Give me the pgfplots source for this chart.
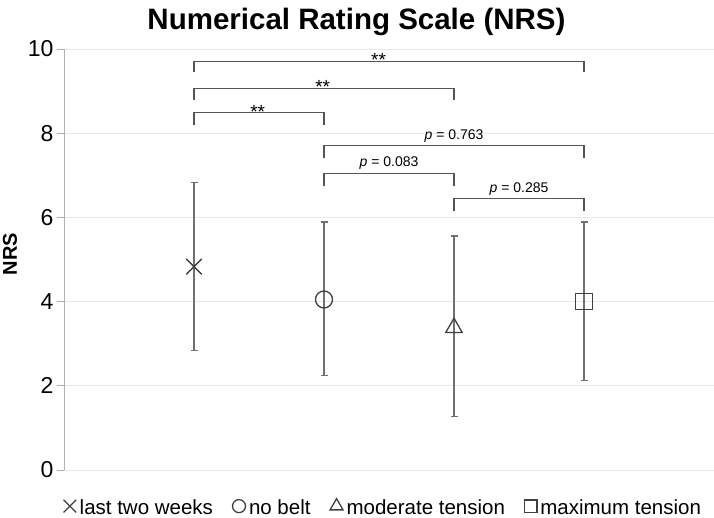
\documentclass[border=0pt]{standalone}
\usepackage{fontspec}
\setmainfont{Liberation Sans}
\usepackage{pgfplots}
\pgfplotsset{compat=1.18}
\definecolor{gridc}{HTML}{E8E8E8}
\definecolor{axc}{HTML}{B0B0B0}
\definecolor{markc}{HTML}{404040}
\definecolor{errc}{HTML}{707070}
\definecolor{brc}{HTML}{555555}
\begin{document}
\begin{tikzpicture}
\begin{axis}[
  at={(0,0)}, anchor=south west,
  scale only axis, width=650bp, height=421bp,
  xmin=0, xmax=5, ymin=0, ymax=10,
  axis x line=bottom, axis y line=left, axis line style={-},
  x axis line style={draw=gridc, line width=0.8bp},
  y axis line style={draw=axc, line width=0.8bp},
  xtick=\empty,
  ytick={0,2,4,6,8,10},
  ymajorgrids, grid style={draw=gridc, line width=0.8bp},
  tick align=outside, major tick length=7bp,
  ytick style={draw=axc, line width=0.8bp},
  /pgf/number format/assume math mode=true,
  yticklabel style={font=\fontsize{23bp}{23bp}\selectfont},
  ylabel={NRS},
  ylabel style={font=\bfseries\fontsize{20bp}{20bp}\selectfont, at={(axis description cs:-0.083,0.513)}, anchor=center},
  title={Numerical Rating Scale (NRS)},
  title style={font=\bfseries\fontsize{29.5bp}{29.5bp}\selectfont, at={(axis description cs:0.45,1.033)}, anchor=base},
  clip=false,
  legend columns=4,
  legend style={at={(axis description cs:0.49,0)}, anchor=south, yshift=-47bp, draw=none, fill=none,
    font=\fontsize{20.5bp}{20.5bp}\selectfont, inner sep=0pt,
    nodes={inner sep=0.5bp},
    /tikz/every odd column/.style={column sep=3bp},
    /tikz/every even column/.style={column sep=19bp}},
  legend image code/.code={\draw[#1, line width=1bp] plot coordinates {(0bp,2bp)};},
  error bars/y dir=both, error bars/y explicit,
  error bars/error bar style={errc, line width=1.2bp},
  error bars/error mark options={rotate=90, mark size=3.5bp, errc, line width=1.2bp},
]
\addplot[only marks, mark=x, mark size=11bp, mark options={draw=markc, line width=1.3bp},
  legend image post style={mark size=9bp}]
  coordinates {(1,4.83) += (0,1.99) -= (0,1.99)};
\addlegendentry{last two weeks}
\addplot[only marks, mark=o, mark size=8.5bp, mark options={draw=markc, fill=white, line width=1.3bp},
  legend image post style={mark size=6.5bp}]
  coordinates {(2,4.05) += (0,1.84) -= (0,1.81)};
\addlegendentry{no belt}
\addplot[only marks, mark=triangle, mark size=9.5bp, mark options={draw=markc, fill=white, line width=1.3bp},
  legend image post style={mark size=7.5bp}]
  coordinates {(3,3.38) += (0,2.18) -= (0,2.10)};
\addlegendentry{moderate tension}
\addplot[only marks, mark=square, mark size=8.2bp, mark options={draw=markc, fill=white, line width=1.3bp},
  legend image post style={mark size=6.2bp}]
  coordinates {(4,4.00) += (0,1.89) -= (0,1.87)};
\addlegendentry{maximum tension}
% significance brackets
\addplot[brc, line width=1.1bp, forget plot] coordinates {(1,9.45)(1,9.71)(4,9.71)(4,9.45)};
\addplot[brc, line width=1.1bp, forget plot] coordinates {(1,8.79)(1,9.07)(3,9.07)(3,8.79)};
\addplot[brc, line width=1.1bp, forget plot] coordinates {(1,8.19)(1,8.49)(2,8.49)(2,8.19)};
\addplot[brc, line width=1.1bp, forget plot] coordinates {(2,7.40)(2,7.70)(4,7.70)(4,7.40)};
\addplot[brc, line width=1.1bp, forget plot] coordinates {(2,6.75)(2,7.05)(3,7.05)(3,6.75)};
\addplot[brc, line width=1.1bp, forget plot] coordinates {(3,6.16)(3,6.44)(4,6.44)(4,6.16)};
\node[font=\fontsize{19bp}{19bp}\selectfont, anchor=base, yshift=-5.5bp] at (axis cs:2.42,9.71) {**};
\node[font=\fontsize{19bp}{19bp}\selectfont, anchor=base, yshift=-5.5bp] at (axis cs:1.99,9.07) {**};
\node[font=\fontsize{19bp}{19bp}\selectfont, anchor=base, yshift=-5.5bp] at (axis cs:1.49,8.49) {**};
\node[font=\fontsize{14bp}{14bp}\selectfont, anchor=base, yshift=6.7bp] at (axis cs:3.0,7.70) {\textit{p} = 0.763};
\node[font=\fontsize{14bp}{14bp}\selectfont, anchor=base, yshift=6.7bp] at (axis cs:2.5,7.05) {\textit{p} = 0.083};
\node[font=\fontsize{14bp}{14bp}\selectfont, anchor=base, yshift=6.7bp] at (axis cs:3.5,6.44) {\textit{p} = 0.285};
\end{axis}
\pgfresetboundingbox
\path[use as bounding box] (-64bp,-48bp) rectangle (650bp,470bp);
\end{tikzpicture}
\end{document}
